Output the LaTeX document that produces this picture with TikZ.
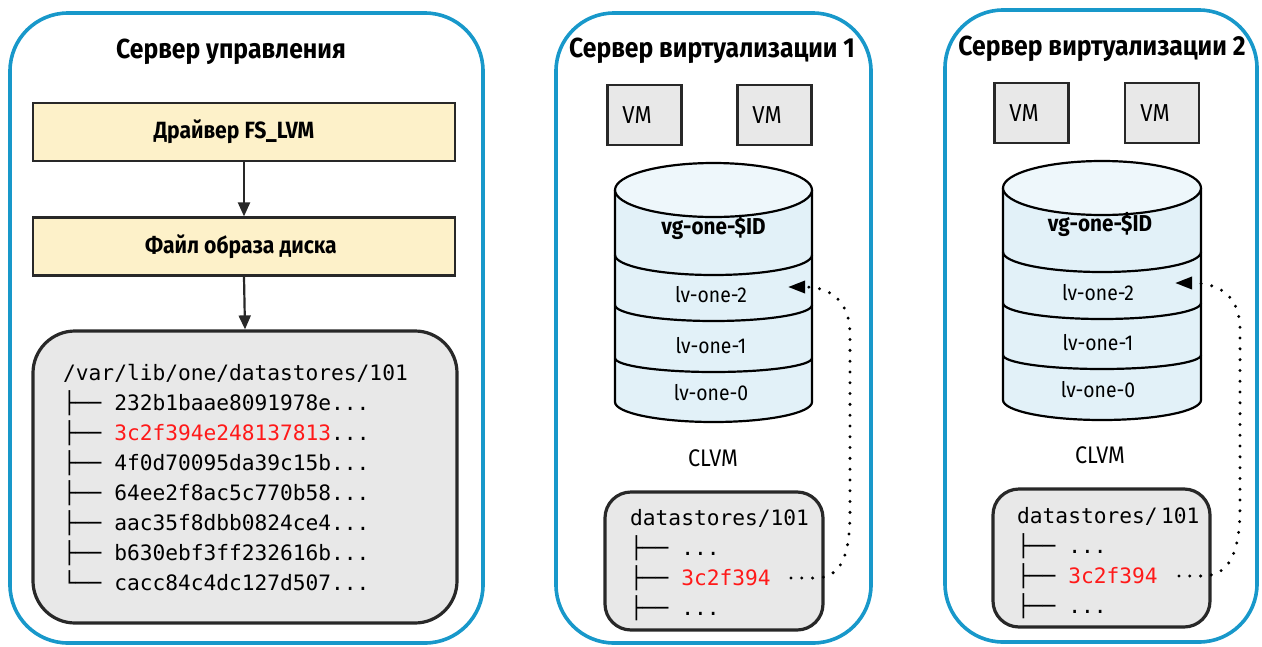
\documentclass[tikz,border=0pt]{standalone}
\usepackage{fontspec}
\setmainfont{Fira Sans}[FakeStretch=0.9]
\setmonofont{DejaVu Sans Mono}
\usetikzlibrary{arrows.meta}
\definecolor{pblue}{RGB}{24,152,202}
\definecolor{ybox}{RGB}{253,241,201}
\definecolor{gbox}{RGB}{232,232,232}
\definecolor{cylbody}{RGB}{226,241,248}
\definecolor{cyltop}{RGB}{238,247,251}
\definecolor{edge}{RGB}{40,40,40}
\definecolor{hred}{RGB}{255,25,25}
\begin{document}
\begin{tikzpicture}[x=1pt,y=-1pt,
  panel/.style={draw=pblue, line width=3.6pt, rounded corners=58pt, inner sep=0pt},
  ptitle/.style={font=\fontsize{27.5}{32}\selectfont\bfseries, inner sep=0pt},
  ybx/.style={draw=edge, fill=ybox, line width=2.2pt, minimum width=422pt, minimum height=58pt, inner sep=0pt},
  ytxt/.style={font=\fontsize{23.5}{28}\selectfont\bfseries, inner sep=0pt},
  gpanel/.style={draw=edge, fill=gbox, line width=3.2pt, inner sep=0pt},
  vmbox/.style={draw=edge, fill=gbox, line width=2.2pt, minimum width=74pt, minimum height=60pt, inner sep=0pt},
  lbl/.style={font=\fontsize{21.5}{25}\selectfont, inner sep=0pt},
  vmlbl/.style={font=\fontsize{24.5}{28}\selectfont, inner sep=0pt},
  blbl/.style={font=\fontsize{23}{27}\selectfont\bfseries, inner sep=0pt},
  clbl/.style={font=\fontsize{24}{28}\selectfont, inner sep=0pt},
  mono/.style={font=\ttfamily\fontsize{21.2}{25}\selectfont, anchor=base west, inner sep=0pt},
  cyl/.style={draw=black, line width=2.2pt},
  flow/.style={draw=edge, line width=2.2pt, -{Triangle[length=14pt,width=12pt]}},
  dots/.style={line width=3.3pt, line cap=round, dash pattern=on 0pt off 10.8pt, -{Triangle[length=17pt,width=12pt]}},
]
\useasboundingbox (0,0) rectangle (1262,646);

% ---------------- panels ----------------
\node[panel, minimum width=473pt, minimum height=630pt] (p1) at (246.5,328) {};
\node[panel, minimum width=315pt, minimum height=630pt] (p2) at (713.5,328) {};
\node[panel, minimum width=312pt, minimum height=632pt] (p3) at (1101,326) {};

\node[ptitle] (t1) at (231,52) {Сервер управления};
\node[ptitle] (t2) at (712,51) {Сервер виртуализации 1};
\node[ptitle] (t3) at (1102,49) {Сервер виртуализации 2};

% ---------------- management server ----------------
\node[ybx] (drv) at (244,132) {};
\node[ytxt] (drvt) at (234,132) {Драйвер FS\_LVM};
\node[ybx] (img) at (244,246.5) {};
\node[ytxt] (imgt) at (241,246.5) {Файл образа диска};
\node[gpanel, rounded corners=42pt, minimum width=424pt, minimum height=292pt] (list) at (245,477) {};
\draw[flow] (drv.south) -- (img.north);
\draw[flow] (img.south) -- (list.north);

\node[mono] (l0) at (63,380) {/var/lib/one/datastores/101};
\node[mono] (l1) at (63,410) {├── 232b1baae8091978e...};
\node[mono] (l2) at (63,440) {├── \textcolor{hred}{3c2f394e248137813}...};
\node[mono] (l3) at (63,470) {├── 4f0d70095da39c15b...};
\node[mono] (l4) at (63,500) {├── 64ee2f8ac5c770b58...};
\node[mono] (l5) at (63,530) {├── aac35f8dbb0824ce4...};
\node[mono] (l6) at (63,560) {├── b630ebf3ff232616b...};
\node[mono] (l7) at (63,590) {└── cacc84c4dc127d507...};

% ---------------- virtualization server 1 ----------------
\node[vmbox] (vm1a) at (644.5,115) {};
\node[vmlbl] (vm1at) at (637,115) {VM};
\node[vmbox] (vm1b) at (774.5,115) {};
\node[vmlbl] (vm1bt) at (767,115) {VM};

\fill[cylbody] (615,190) -- (615,402) arc[start angle=180,end angle=360,x radius=98.5pt,y radius=20pt] -- (812,190) -- cycle;
\draw[cyl] (615,255) arc[start angle=180,end angle=360,x radius=98.5pt,y radius=20pt];
\draw[cyl] (615,305) arc[start angle=180,end angle=360,x radius=98.5pt,y radius=16pt];
\draw[cyl] (615,358) arc[start angle=180,end angle=360,x radius=98.5pt,y radius=14pt];
\draw[cyl] (615,190) -- (615,402) arc[start angle=180,end angle=360,x radius=98.5pt,y radius=20pt] -- (812,190);
\draw[cyl, fill=cyltop] (713.5,190) ellipse[x radius=98.5pt, y radius=27pt];

\node[blbl] (vg1) at (713.5,228) {vg-one-\$ID};
\node[lbl] (lv12) at (711,295) {lv-one-2};
\node[lbl] (lv11) at (711,346) {lv-one-1};
\node[lbl] (lv10) at (711,393) {lv-one-0};
\node[clbl] (clvm1) at (713,458) {CLVM};

\node[gpanel, rounded corners=26pt, minimum width=218pt, minimum height=138pt] (ds1) at (714,561) {};
\node[mono] (d10) at (630,525) {datastores/101};
\node[mono] (d11) at (630,555) {├── ...};
\node[mono] (d12) at (630,585) {├── \textcolor{hred}{3c2f394}};
\node[mono] (d13) at (630,615) {├── ...};

\coordinate (s1) at (791,578);
\coordinate (tip1) at (788,287);
\draw[dots] (s1) -- (815,578) .. controls (842,578) and (850,555) .. (850,510) -- (850,335) .. controls (850,302) and (832,287) .. (tip1);

% ---------------- virtualization server 2 ----------------
\node[vmbox] (vm2a) at (1031.5,113) {};
\node[vmlbl] (vm2at) at (1024,113) {VM};
\node[vmbox] (vm2b) at (1162,113) {};
\node[vmlbl] (vm2bt) at (1155,113) {VM};

\fill[cylbody] (1003,188) -- (1003,400) arc[start angle=180,end angle=360,x radius=99pt,y radius=20pt] -- (1201,188) -- cycle;
\draw[cyl] (1003,252) arc[start angle=180,end angle=360,x radius=99pt,y radius=20pt];
\draw[cyl] (1003,303) arc[start angle=180,end angle=360,x radius=99pt,y radius=16pt];
\draw[cyl] (1003,355) arc[start angle=180,end angle=360,x radius=99pt,y radius=14pt];
\draw[cyl] (1003,188) -- (1003,400) arc[start angle=180,end angle=360,x radius=99pt,y radius=20pt] -- (1201,188);
\draw[cyl, fill=cyltop] (1102,188) ellipse[x radius=99pt, y radius=27pt];

\node[blbl] (vg2) at (1100,225) {vg-one-\$ID};
\node[lbl] (lv22) at (1098,293) {lv-one-2};
\node[lbl] (lv21) at (1098,343) {lv-one-1};
\node[lbl] (lv20) at (1098,390) {lv-one-0};
\node[clbl] (clvm2) at (1100,455) {CLVM};

\node[gpanel, rounded corners=26pt, minimum width=217pt, minimum height=138pt] (ds2) at (1101.5,558) {};
\node[mono] (d20) at (1017,523) {datastores/\,101};
\node[mono] (d21) at (1017,553) {├── ...};
\node[mono] (d22) at (1017,583) {├── \textcolor{hred}{3c2f394}};
\node[mono] (d23) at (1017,613) {├── ...};

\coordinate (s2) at (1179,576);
\coordinate (tip2) at (1175,283);
\draw[dots] (s2) -- (1202,576) .. controls (1230,576) and (1240,552) .. (1240,506) -- (1240,330) .. controls (1240,298) and (1222,283) .. (tip2);
\end{tikzpicture}
\end{document}
